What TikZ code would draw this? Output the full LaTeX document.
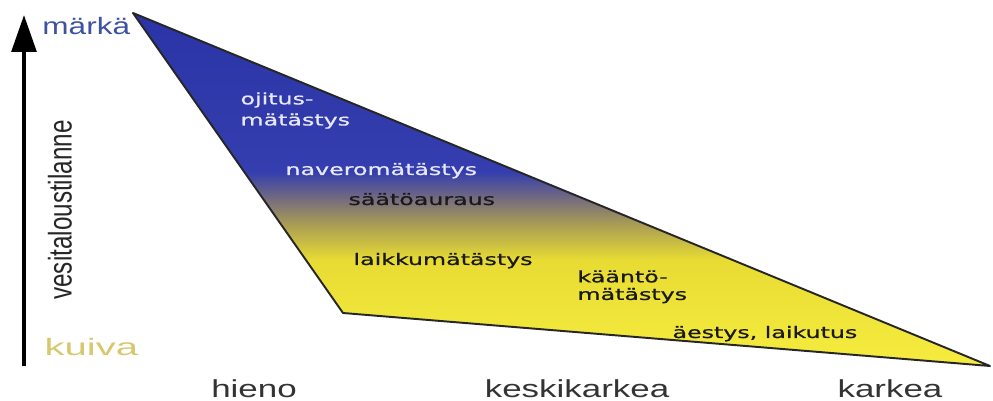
\documentclass[tikz,border=0pt]{standalone}
\usepackage{fontspec}
\setmainfont{Liberation Sans}
\newfontfamily\methodfont[FakeBold=0.7]{DejaVu Sans}
\usepackage{xcolor}
\usetikzlibrary{arrows.meta}

\definecolor{deepblue}{RGB}{42,52,166}
\definecolor{wetblue}{RGB}{52,62,174}
\definecolor{mudgrey}{RGB}{120,110,124}
\definecolor{mudolive}{RGB}{170,158,84}
\definecolor{dryyellow}{RGB}{232,220,52}
\definecolor{paleyellow}{RGB}{246,236,62}
\definecolor{wettext}{RGB}{62,82,160}
\definecolor{drytext}{RGB}{215,200,112}
\definecolor{methodwhite}{RGB}{232,232,248}

\pgfdeclareverticalshading{wetdry}{100bp}{color(0bp)=(paleyellow); color(25bp)=(paleyellow); color(40bp)=(dryyellow); color(45bp)=(mudolive); color(48.5bp)=(mudgrey); color(52.5bp)=(wetblue); color(75bp)=(deepblue); color(100bp)=(deepblue)}

\begin{document}
\begin{tikzpicture}[x=0.02cm, y=-0.02cm,
    axislabel/.style={inner sep=0pt, anchor=base, font=\fontsize{14}{16}\selectfont, text=black!80, xscale=1.42},
    method/.style={inner sep=0pt, anchor=base west, align=left, font=\methodfont\fontsize{9}{11}\selectfont, xscale=1.5},
    wet/.style={method, text=methodwhite},
    dry/.style={method, text=black!90}]
    \useasboundingbox (0,0) rectangle (993,401);

    % the field of methods
    \coordinate (peak) at (133,13);
    \coordinate (knee) at (343,313);
    \coordinate (tail) at (990,366);
    \shade[shading=wetdry, draw=black!85, line width=1.1pt, line join=round] (peak) -- (knee) -- (tail) -- cycle;

    % water axis
    \coordinate (dryend) at (24,366);
    \coordinate (wetend) at (24,15);
    \draw[line width=2.3pt, -{Triangle[length=21pt, width=14pt]}] (dryend) -- (wetend);
    \node[inner sep=0pt, anchor=base west, font=\fontsize{13.5}{16}\selectfont, text=wettext, xscale=1.33] (wet) at (42,35) {märkä};
    \node[inner sep=0pt, anchor=base west, font=\fontsize{13.5}{16}\selectfont, text=drytext, xscale=1.69] (dry) at (44,356) {kuiva};
    \node[inner sep=0pt, font=\fontsize{13.8}{16}\selectfont, text=black!85, xscale=1.35, rotate=90] (water) at (60,210) {vesitaloustilanne};

    % soil axis
    \node[axislabel] (fine) at (254,398) {hieno};
    \node[axislabel] (medium) at (577,398) {keskikarkea};
    \node[axislabel] (coarse) at (890,398) {karkea};

    % methods
    \node[wet, anchor=north west] (ditch) at (240,92) {ojitus-\\[1pt]mätästys};
    \node[wet] (naver) at (285,175) {naveromätästys};
    \node[dry] (plough) at (348,205) {säätöauraus};
    \node[dry] (patch) at (353,265) {laikkumätästys};
    \node[dry, anchor=north west] (invert) at (577,270) {kääntö-\\[-1pt]mätästys};
    \node[dry] (harrow) at (672,338) {äestys, laikutus};
\end{tikzpicture}
\end{document}
